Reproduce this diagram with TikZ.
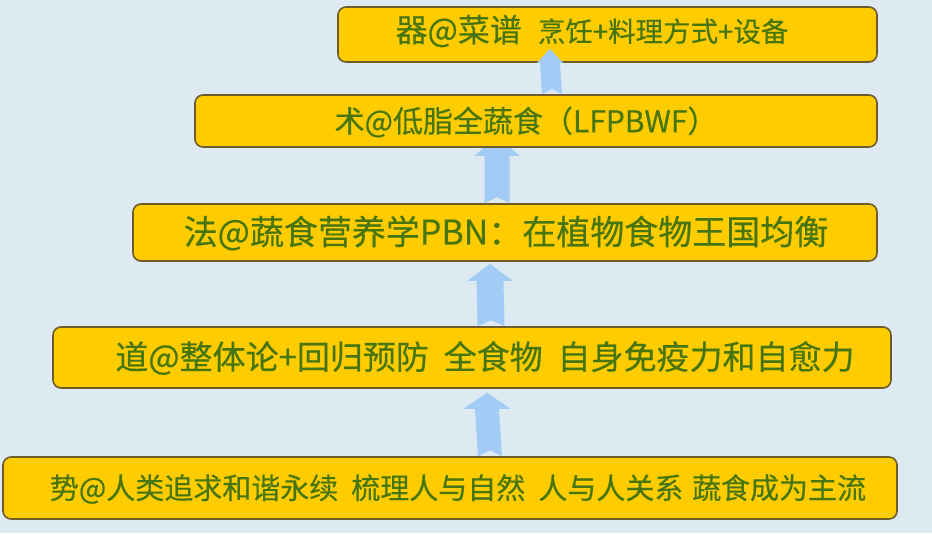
\documentclass[tikz,border=0pt]{standalone}
\usepackage{fontspec}
\newfontfamily\cjk[FakeBold=0.4]{Noto Sans CJK SC}
\usetikzlibrary{calc}
\definecolor{bgc}{HTML}{DEEAF1}
\definecolor{boxfill}{HTML}{FFCC00}
\definecolor{boxline}{HTML}{6E5C2E}
\definecolor{txt}{HTML}{477510}
\definecolor{arrc}{HTML}{A2CCF6}
\pgfdeclarelayer{bglayer}
\pgfdeclarelayer{backlayer}
\pgfsetlayers{bglayer,backlayer,main}
% #1 bottom, #2 tip, #3 half shaft, #4 half head, #5 head length, #6 notch
\newcommand\uparr[6]{%
  \fill[arrc] let \p1=(#1), \p2=(#2) in
  (\x1-#3,\y1) -- (\x2-#3,\y2-#5) -- (\x2-#4,\y2-#5) -- (\x2,\y2)
  -- (\x2+#4,\y2-#5) -- (\x2+#3,\y2-#5) -- (\x1+#3,\y1) -- (\x1,\y1+#6) -- cycle;}
\begin{document}
\begin{tikzpicture}[x=1pt,y=-1pt,
  box/.style={draw=boxline, line width=1.6pt, fill=boxfill, rounded corners=8pt, inner sep=0pt},
  lbl/.style={text=txt, inner sep=0pt, font=\cjk}]
\begin{pgfonlayer}{bglayer}
\fill[bgc] (0,0) rectangle (932,533);
\end{pgfonlayer}
\useasboundingbox (0,0) rectangle (932,533);
% boxes
\node[box, minimum width=539pt, minimum height=55pt] (b1) at (607.5,34.5) {};
\node[box, minimum width=682pt, minimum height=52pt] (b2) at (536,121) {};
\node[box, minimum width=744pt, minimum height=57pt] (b3) at (505,232.5) {};
\node[box, minimum width=838pt, minimum height=61pt] (b4) at (472,357.5) {};
\node[box, minimum width=894pt, minimum height=62pt] (b5) at (450,488) {};
% texts
\node[lbl] (t1) at (592,31) {{\fontsize{32}{32}\selectfont 器@菜谱}\hspace{16pt}{\fontsize{27.5}{27.5}\selectfont 烹饪+料理方式+设备}};
\node[lbl] (t2) at (526,122) {\fontsize{30}{30}\selectfont 术@低脂全蔬食（LFPBWF）};
\node[lbl] (t3) at (506,233) {\fontsize{34}{34}\selectfont 法@蔬食营养学PBN：在植物食物王国均衡};
\node[lbl] (t4) at (485,358) {\fontsize{33}{33}\selectfont 道@整体论+回归预防\hspace{.45em}全食物\hspace{.45em}自身免疫力和自愈力};
\node[lbl] (t5) at (458,489) {\fontsize{29}{29}\selectfont 势@人类追求和谐永续\hspace{.45em}梳理人与自然\hspace{.45em}人与人关系\hspace{.3em}蔬食成为主流};
% arrow x positions
\coordinate (xa1b) at (552,0); \coordinate (xa1t) at (550,0);
\coordinate (xa2) at (497,0);
\coordinate (xa3b) at (491,0); \coordinate (xa3t) at (490,0);
\coordinate (xa4b) at (490,0); \coordinate (xa4t) at (487,0);
% arrows
\begin{pgfonlayer}{backlayer}
\uparr{b3.north -| xa2}{$(b2.south -| xa2)+(0,-12)$}{12.5pt}{22.5pt}{20pt}{6pt}
\end{pgfonlayer}
\uparr{b2.north -| xa1b}{$(b1.south -| xa1t)+(0,-14)$}{10pt}{13pt}{14pt}{5pt}
\uparr{b4.north -| xa3b}{$(b3.south -| xa3t)+(0,2)$}{13.5pt}{22.5pt}{17pt}{6pt}
\uparr{b5.north -| xa4b}{$(b4.south -| xa4t)+(0,4)$}{12pt}{23.5pt}{16pt}{6pt}
\end{tikzpicture}
\end{document}
